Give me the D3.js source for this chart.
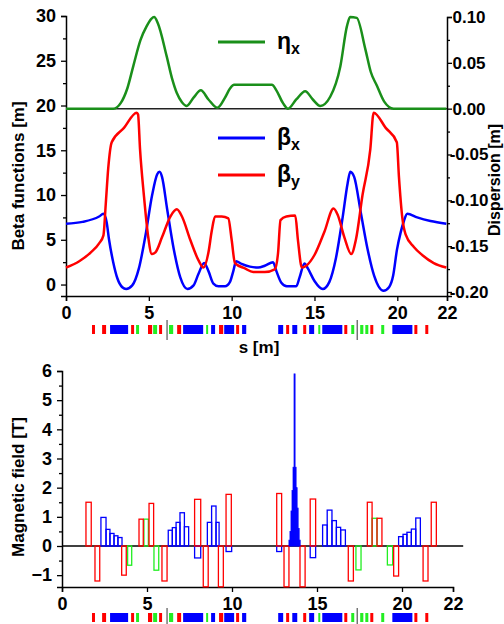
<!DOCTYPE html>
<html>
<head>
<meta charset="utf-8">
<script src="https://cdn.jsdelivr.net/npm/d3@7"></script>
<style>
body { margin: 0; background: #fff; }
svg text { font-family: "Liberation Sans", Arial, sans-serif; font-weight: bold; fill: #000; }
</style>
</head>
<body>
<div id="chart"></div>
<script>
// ---------------- data ----------------
// x axis (s in m); last tick sits at the end of the axis but is labelled 22
var xTickValues = [0, 5, 10, 15, 20, 23];
var xTickLabels = ["0", "5", "10", "15", "20", "22"];
var betaTicks = [0, 5, 10, 15, 20, 25, 30];
var dispTicks = [-0.20, -0.15, -0.10, -0.05, 0.00, 0.05, 0.10];
var fieldTicks = [-1, 0, 1, 2, 3, 4, 5, 6];

// beta x [m]  (s, value)
var betaX = [[0,6.8],[1.0,7.0],[2.0,7.6],[2.26,7.9],[2.45,7.0],[2.6,5.0],[2.85,2.5],[3.1,0.7],[3.4,-0.3],[3.63,-0.5],
  [4.0,-0.1],[4.4,1.8],[4.8,5.5],[5.2,10.0],[5.5,12.3],[5.65,12.6],[5.8,12.0],[6.1,8.5],[6.5,4.0],[6.9,0.8],[7.33,-0.5],
  [7.7,-0.1],[8.0,1.2],[8.34,2.4],[8.6,1.5],[8.9,0.1],[9.2,-0.2],[9.6,-0.2],[9.9,0.3],[10.1,1.5],[10.27,2.6],[10.6,2.3],
  [11.1,2.0],[11.6,1.9],[12.0,2.1],[12.5,2.5],[12.7,1.5],[13.0,0.2],[13.33,-0.2],[13.9,-0.2],[14.1,0.8],[14.4,2.35],
  [14.6,1.8],[15.0,0.4],[15.5,-0.5],[15.9,0.3],[16.3,3.0],[16.7,7.5],[17.0,11.3],[17.16,12.6],[17.4,12.0],[17.8,8.0],
  [18.2,4.0],[18.6,1.0],[19.17,-0.7],[19.5,-0.3],[19.75,1.0],[19.98,3.9],[20.2,5.8],[20.4,7.1],[20.6,7.9],[21.2,7.5],
  [22.0,7.1],[22.96,6.8]];

// beta y [m]
var betaY = [[0,1.9],[0.8,2.6],[1.5,3.6],[2.0,4.6],[2.26,5.5],[2.4,9.0],[2.55,13.0],[2.76,15.9],[3.5,17.5],[4.27,19.2],
  [4.35,19.0],[4.47,15.1],[4.7,10.0],[4.95,5.5],[5.18,3.4],[5.4,3.6],[5.8,5.3],[6.3,7.6],[6.69,8.4],[7.0,7.6],[7.5,5.0],
  [8.0,2.7],[8.3,1.9],[8.6,3.6],[8.8,6.0],[9.0,7.6],[9.4,7.6],[9.8,7.4],[10.0,5.0],[10.2,2.4],[10.8,1.8],[11.3,1.4],
  [12.0,1.4],[12.6,1.7],[12.8,3.5],[12.95,7.2],[13.3,7.6],[13.84,7.7],[14.0,5.0],[14.24,1.9],[14.5,2.1],[15.0,3.3],
  [15.6,5.9],[16.15,8.5],[16.4,7.8],[16.8,5.3],[17.22,3.4],[17.5,5.0],[17.9,10.0],[18.37,15.1],[18.57,19.2],[19.3,17.5],
  [19.97,15.9],[20.1,12.0],[20.3,7.5],[20.5,5.6],[21.0,4.2],[21.5,3.3],[22.2,2.4],[22.96,1.9]];

// dispersion eta x [m]
var etaX = [[0,0],[2.86,0],[3.3,0.006],[3.7,0.022],[4.07,0.047],[4.5,0.075],[4.87,0.09],[5.15,0.098],[5.32,0.1],
  [5.55,0.093],[6.08,0.057],[6.4,0.033],[6.69,0.017],[7.0,0.007],[7.29,0.003],[7.7,0.012],[8.14,0.02],[8.6,0.01],
  [9.14,0.001],[9.6,0.012],[9.9,0.022],[10.15,0.026],[12.43,0.026],[12.7,0.02],[13.1,0.006],[13.4,0.0],[13.9,0.01],
  [14.44,0.019],[14.9,0.01],[15.35,0.003],[15.95,0.013],[16.56,0.046],[16.96,0.09],[17.15,0.1],[17.55,0.099],
  [18.07,0.065],[18.4,0.04],[18.77,0.025],[19.2,0.008],[19.78,0],[22.96,0]];

// lattice strip: [start, end] in s
var latDipole = [[1.57,1.75],[2.18,2.42],[3.93,4.11],[4.95,5.2],[5.62,5.8],[6.71,6.95],[9.24,9.49],[10.27,10.45],
  [13.29,13.47],[14.32,14.5],[16.8,16.98],[18.37,18.55],[21.03,21.21],[21.69,21.87]];
var latQuad = [[2.66,3.75],[7.07,8.28],[8.76,9.0],[9.55,10.15],[10.63,10.88],[12.81,13.11],[13.66,13.96],[14.68,14.98],
  [15.47,16.68],[19.7,20.91]];
var latSext = [[4.23,4.41],[5.26,5.5],[6.22,6.47],[8.46,8.58],[15.23,15.35],[17.22,17.4],[17.76,17.95],[18.07,18.25],
  [19.03,19.21]];
var latMarker = [6.1, 17.58];

// magnetic field [T]: [start, end, B]
var dipoleField = [[1.41,1.72,1.5],[1.94,2.22,-1.2],[3.51,3.78,-1.0],[4.53,4.78,0.92],[5.12,5.39,1.46],[5.88,6.18,-1.2],
  [7.8,8.16,1.6],[8.31,8.6,-1.4],[9.2,9.49,-1.4],[9.65,9.96,1.77],[12.63,12.92,1.8],[13.06,13.35,-1.4],[14.0,14.3,-1.4],
  [14.6,14.92,1.61],[16.84,17.14,-1.2],[17.96,18.24,1.5],[18.53,18.82,0.95],[19.51,19.8,-1.03],[21.24,21.53,-1.2],
  [21.72,22.02,1.5]];
var quadField = [[2.29,2.59,0.98],[2.59,2.82,0.57],[2.82,3.06,0.43],[3.06,3.29,0.35],[3.29,3.53,0.29],
  [6.25,6.49,0.54],[6.49,6.71,0.63],[6.71,6.94,0.81],[6.94,7.2,1.14],[7.2,7.45,0.66],[7.8,8.16,-0.41],
  [8.55,8.8,0.81],[8.8,9.06,1.37],[9.06,9.24,0.81],[9.65,9.98,-0.19],[12.63,12.92,-0.19],[14.6,14.92,-0.4],
  [15.33,15.6,0.72],[15.6,15.88,1.23],[15.88,16.14,0.87],[16.14,16.39,0.64],[16.39,16.67,0.55],
  [19.8,20.06,0.32],[20.06,20.29,0.4],[20.29,20.55,0.47],[20.55,20.81,0.58],[20.81,21.08,0.96]];
var sextField = [[3.86,4.1,-0.66],[4.82,5.08,0.92],[5.41,5.69,-0.83],[17.29,17.59,-0.82],[18.24,18.53,0.95],
  [19.14,19.45,-0.65]];
// central wiggler / solenoid spike
var spikeS = [13.38, 13.44, 13.50, 13.56, 13.62, 13.68, 13.74, 13.80, 13.86, 13.92, 13.98];
var spikeB = [0.2, 0.5, 1.2, 1.9, 2.7, 5.9, 2.7, 2.0, 1.3, 0.6, 0.2];

// ---------------- chart ----------------
var width = 504, height = 624;
var cRed = "#ff0000", cBlue = "#0000ff", cGreen = "#1a8f1a", cLime = "#22ee22";

var svg = d3.select("#chart")
  .append("svg")
    .attr("width", width)
    .attr("height", height);

svg.append("rect").attr("width", width).attr("height", height).attr("fill", "#fff");

// top panel scales
var x = d3.scaleLinear().domain([0, 23]).range([66, 447]);
var yL = d3.scaleLinear().domain([-1.28, 30]).range([296, 16]);
var yR = d3.scaleLinear().domain([-0.2044, 0.10]).range([296, 17]);

function styleAxis(g) {
  g.selectAll("path.domain").attr("stroke", "#000").attr("stroke-width", 1.5);
  g.selectAll(".tick line").attr("stroke", "#000").attr("stroke-width", 1.3);
  g.selectAll("text").style("font-size", "18px");
}

// x axis top
svg.append("g")
  .attr("transform", "translate(0,296)")
  .call(d3.axisBottom(x).tickValues(xTickValues).tickFormat(function(d, i) { return xTickLabels[i]; })
        .tickSizeOuter(0).tickSize(5).tickPadding(5))
  .call(styleAxis);

// left axis + minor ticks
svg.append("g")
  .attr("transform", "translate(66,0)")
  .call(d3.axisLeft(yL).tickValues(betaTicks).tickSizeOuter(0).tickSize(5).tickPadding(5))
  .call(styleAxis);
svg.append("g")
  .attr("transform", "translate(66,0)")
  .call(d3.axisLeft(yL).tickValues(betaTicks.slice(1).map(function(d) { return d - 2.5; })).tickSize(3).tickFormat(""))
  .call(styleAxis)
  .select("path.domain").remove();

// right axis + minor ticks (labels centred, as in the original)
svg.append("g")
  .attr("transform", "translate(447,0)")
  .call(d3.axisRight(yR).tickValues(dispTicks).tickFormat(function(d) { return d.toFixed(2); })
        .tickSizeOuter(0).tickSize(5))
  .call(styleAxis)
  .selectAll("text")
    .attr("x", 22)
    .style("text-anchor", "middle")
    .style("font-size", "17px");
svg.append("g")
  .attr("transform", "translate(447,0)")
  .call(d3.axisRight(yR).tickValues(dispTicks.slice(1).map(function(d) { return d - 0.025; })).tickSize(3).tickFormat(""))
  .call(styleAxis)
  .select("path.domain").remove();

// zero-dispersion line
svg.append("line")
  .attr("x1", x(0)).attr("x2", x(23))
  .attr("y1", yR(0)).attr("y2", yR(0))
  .attr("stroke", "#222").attr("stroke-width", 1.5);

// curves
var lineL = d3.line().x(function(d) { return x(d[0]); }).y(function(d) { return yL(d[1]); }).curve(d3.curveMonotoneX);
var lineR = d3.line().x(function(d) { return x(d[0]); }).y(function(d) { return yR(d[1]); }).curve(d3.curveMonotoneX);

svg.append("path").datum(etaX).attr("d", lineR)
  .attr("fill", "none").attr("stroke", cGreen).attr("stroke-width", 2.5);
svg.append("path").datum(betaX).attr("d", lineL)
  .attr("fill", "none").attr("stroke", cBlue).attr("stroke-width", 2.5);
svg.append("path").datum(betaY).attr("d", lineL)
  .attr("fill", "none").attr("stroke", cRed).attr("stroke-width", 2.5);

// legend
var legend = [
  {sym: "\u03b7", sub: "x", color: cGreen, y: 42},
  {sym: "\u03b2", sub: "x", color: cBlue, y: 138},
  {sym: "\u03b2", sub: "y", color: cRed, y: 175}
];
legend.forEach(function(l) {
  svg.append("line")
    .attr("x1", 218).attr("x2", 265).attr("y1", l.y).attr("y2", l.y)
    .attr("stroke", l.color).attr("stroke-width", 3);
  var t = svg.append("text").attr("x", 277).attr("y", l.y + 7).style("font-size", "23px");
  t.append("tspan").text(l.sym);
  t.append("tspan").attr("dy", 5).style("font-size", "16px").text(l.sub);
});

// axis titles
svg.append("text")
  .attr("transform", "translate(24,176) rotate(-90)")
  .style("text-anchor", "middle").style("font-size", "17px")
  .text("Beta functions [m]");
svg.append("text")
  .attr("transform", "translate(500,180) rotate(-90)")
  .style("text-anchor", "middle").style("font-size", "16px")
  .text("Dispersion [m]");
svg.append("text")
  .attr("x", 259).attr("y", 353)
  .style("text-anchor", "middle").style("font-size", "17px")
  .text("s [m]");

// lattice strip
function drawLattice(y0) {
  var g = svg.append("g");
  [[latDipole, cRed], [latQuad, cBlue], [latSext, cLime]].forEach(function(p) {
    g.selectAll(null).data(p[0]).enter().append("rect")
      .attr("x", function(d) { return x(d[0]); })
      .attr("width", function(d) { return x(d[1]) - x(d[0]); })
      .attr("y", y0).attr("height", 9)
      .attr("fill", p[1]);
  });
  g.selectAll(null).data(latMarker).enter().append("line")
    .attr("x1", function(d) { return x(d); }).attr("x2", function(d) { return x(d); })
    .attr("y1", y0 - 5).attr("y2", y0 + 15)
    .attr("stroke", "#555").attr("stroke-width", 1.2);
}
drawLattice(325);
drawLattice(613);

// ---------------- bottom panel ----------------
var x2 = d3.scaleLinear().domain([0, 23]).range([62, 453]);
var y2 = d3.scaleLinear().domain([-1.406, 6]).range([587, 371]);

svg.append("g")
  .attr("transform", "translate(0,587)")
  .call(d3.axisBottom(x2).tickValues(xTickValues).tickFormat(function(d, i) { return xTickLabels[i]; })
        .tickSizeOuter(0).tickSize(5).tickPadding(5))
  .call(styleAxis);

svg.append("g")
  .attr("transform", "translate(62,0)")
  .call(d3.axisLeft(y2).tickValues(fieldTicks).tickSizeOuter(0).tickSize(5).tickPadding(5))
  .call(styleAxis);
svg.append("g")
  .attr("transform", "translate(62,0)")
  .call(d3.axisLeft(y2).tickValues(fieldTicks.slice(1).map(function(d) { return d - 0.5; })).tickSize(3).tickFormat(""))
  .call(styleAxis)
  .select("path.domain").remove();

svg.append("line")
  .attr("x1", x2(0)).attr("x2", x2(23.6))
  .attr("y1", y2(0)).attr("y2", y2(0))
  .attr("stroke", "#000").attr("stroke-width", 1.5);

function drawBars(data, color) {
  svg.append("g").selectAll("rect").data(data).enter().append("rect")
    .attr("x", function(d) { return x2(d[0]); })
    .attr("width", function(d) { return x2(d[1]) - x2(d[0]); })
    .attr("y", function(d) { return y2(Math.max(d[2], 0)); })
    .attr("height", function(d) { return Math.abs(y2(d[2]) - y2(0)); })
    .attr("fill", "none").attr("stroke", color).attr("stroke-width", 1.3);
}
drawBars(quadField, cBlue);
drawBars(sextField, cLime);
drawBars(dipoleField, cRed);

// spike
svg.append("g").selectAll("rect").data(spikeS).enter().append("rect")
  .attr("x", function(d) { return x2(d - 0.03); })
  .attr("width", function() { return x2(0.06) - x2(0); })
  .attr("y", function(d, i) { return y2(spikeB[i]); })
  .attr("height", function(d, i) { return y2(0) - y2(spikeB[i]); })
  .attr("fill", cBlue).attr("stroke", cBlue).attr("stroke-width", 0.8);

svg.append("text")
  .attr("transform", "translate(24,487) rotate(-90)")
  .style("text-anchor", "middle").style("font-size", "17px")
  .text("Magnetic field [T]");
</script>
</body>
</html>
